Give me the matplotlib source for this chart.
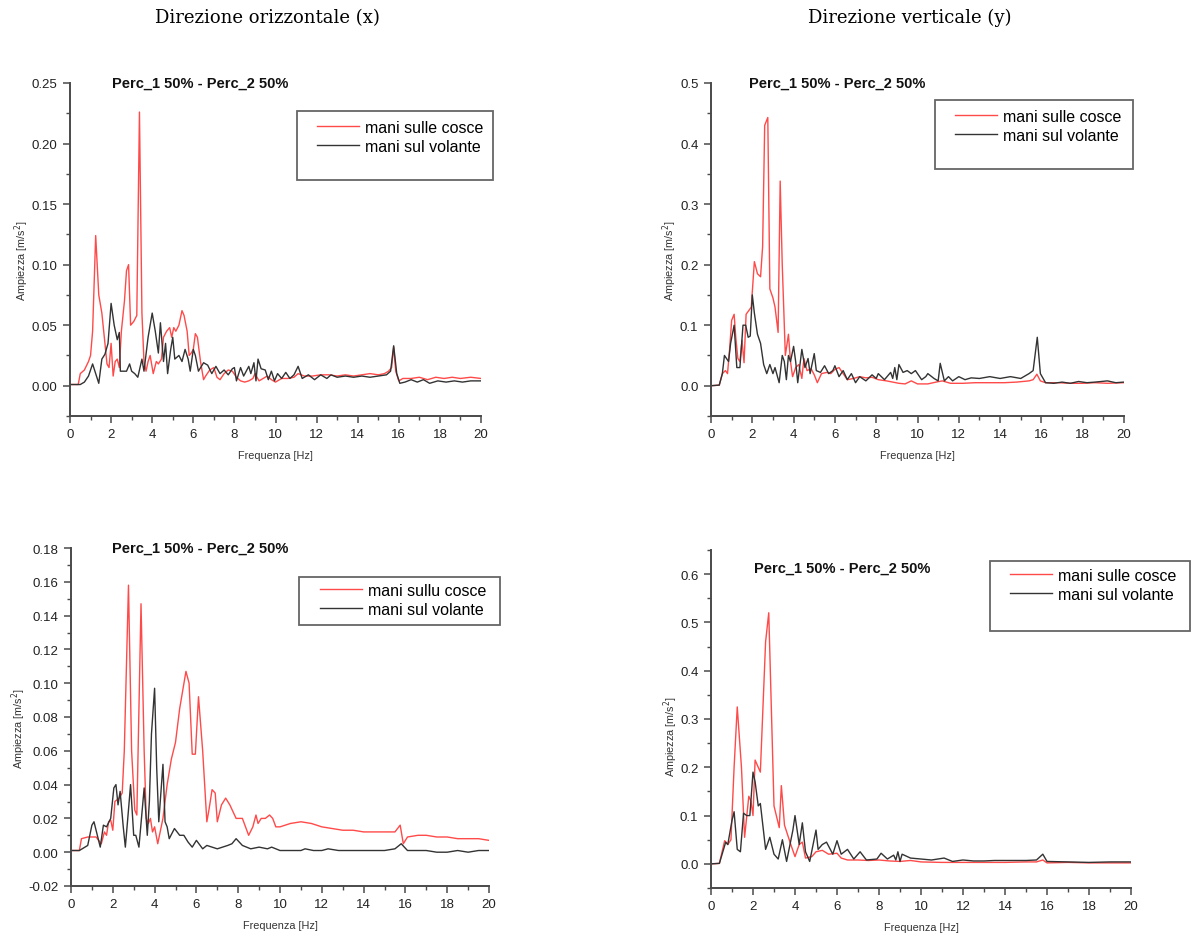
#!/usr/bin/env python
"""Spettri di ampiezza: mani sulle cosce vs mani sul volante."""
import matplotlib
matplotlib.use("Agg")
import matplotlib.pyplot as plt
import numpy as np
from matplotlib.patches import Rectangle
from matplotlib.ticker import FormatStrFormatter, MultipleLocator

W, H = 1196, 937

# (frequenza [Hz], ampiezza [m/s2])
x_top_cosce = [
    (0, 0.001), (0.4, 0.001), (0.5, 0.01), (0.7, 0.013), (0.9, 0.02), (1.0, 0.025), (1.1, 0.045),
    (1.25, 0.124), (1.4, 0.075), (1.55, 0.06), (1.7, 0.035), (1.8, 0.018), (1.9, 0.015), (2.0, 0.035),
    (2.1, 0.008), (2.2, 0.02), (2.3, 0.022), (2.4, 0.015), (2.5, 0.045), (2.65, 0.07), (2.75, 0.095),
    (2.85, 0.1), (2.95, 0.05), (3.1, 0.053), (3.25, 0.058), (3.38, 0.226), (3.5, 0.06), (3.6, 0.02),
    (3.7, 0.012), (3.8, 0.02), (3.9, 0.025), (4.05, 0.01), (4.2, 0.02), (4.3, 0.018), (4.45, 0.022),
    (4.55, 0.04), (4.7, 0.045), (4.85, 0.048), (4.95, 0.04), (5.05, 0.048), (5.15, 0.045), (5.3, 0.05),
    (5.45, 0.062), (5.55, 0.058), (5.7, 0.045), (5.8, 0.025), (5.9, 0.027), (6.0, 0.03), (6.1, 0.043),
    (6.2, 0.04), (6.35, 0.02), (6.5, 0.005), (6.6, 0.008), (6.8, 0.013), (7.0, 0.015), (7.15, 0.007),
    (7.3, 0.005), (7.5, 0.01), (7.7, 0.013), (7.9, 0.012), (8.1, 0.007), (8.3, 0.004), (8.5, 0.003),
    (8.7, 0.004), (8.9, 0.006), (9.0, 0.01), (9.2, 0.004), (9.4, 0.006), (9.6, 0.008), (9.8, 0.005),
    (10.0, 0.003), (10.3, 0.006), (10.6, 0.006), (10.9, 0.007), (11.1, 0.01), (11.4, 0.008),
    (11.8, 0.008), (12.2, 0.009), (12.6, 0.009), (13.0, 0.008), (13.4, 0.009), (13.8, 0.008),
    (14.2, 0.009), (14.6, 0.01), (15.0, 0.009), (15.3, 0.01), (15.5, 0.012), (15.65, 0.015),
    (15.75, 0.032), (15.85, 0.012), (16.0, 0.004), (16.2, 0.006), (16.6, 0.006), (17.0, 0.007),
    (17.4, 0.005), (17.8, 0.007), (18.2, 0.006), (18.6, 0.007), (19.0, 0.006), (19.5, 0.007), (20.0, 0.006),
]
x_top_volante = [
    (0, 0.001), (0.5, 0.001), (0.7, 0.003), (0.9, 0.008), (1.1, 0.018), (1.25, 0.01), (1.4, 0.002),
    (1.55, 0.022), (1.7, 0.026), (1.85, 0.035), (2.0, 0.068), (2.15, 0.05), (2.3, 0.038), (2.4, 0.044),
    (2.45, 0.012), (2.6, 0.012), (2.75, 0.012), (2.9, 0.018), (3.0, 0.012), (3.15, 0.01), (3.3, 0.007),
    (3.5, 0.022), (3.6, 0.012), (3.8, 0.04), (4.0, 0.06), (4.15, 0.045), (4.3, 0.027), (4.4, 0.052),
    (4.55, 0.02), (4.65, 0.035), (4.75, 0.01), (4.9, 0.03), (5.0, 0.04), (5.1, 0.022), (5.3, 0.025),
    (5.45, 0.02), (5.6, 0.03), (5.75, 0.022), (5.85, 0.012), (6.0, 0.03), (6.1, 0.025), (6.25, 0.012),
    (6.5, 0.019), (6.7, 0.017), (6.9, 0.01), (7.1, 0.016), (7.3, 0.01), (7.5, 0.013), (7.7, 0.009),
    (7.9, 0.014), (8.0, 0.015), (8.1, 0.004), (8.3, 0.015), (8.45, 0.008), (8.7, 0.016), (8.8, 0.01),
    (8.95, 0.019), (9.05, 0.004), (9.15, 0.022), (9.3, 0.014), (9.5, 0.013), (9.65, 0.005), (9.8, 0.012),
    (9.95, 0.004), (10.1, 0.01), (10.3, 0.006), (10.5, 0.011), (10.7, 0.006), (10.9, 0.009),
    (11.1, 0.016), (11.3, 0.006), (11.6, 0.009), (11.9, 0.005), (12.2, 0.009), (12.5, 0.006),
    (12.7, 0.009), (13.0, 0.007), (13.4, 0.008), (13.8, 0.007), (14.2, 0.008), (14.6, 0.007),
    (15.0, 0.008), (15.4, 0.009), (15.6, 0.012), (15.75, 0.033), (15.9, 0.01), (16.05, 0.002),
    (16.3, 0.003), (16.6, 0.005), (16.9, 0.003), (17.2, 0.005), (17.5, 0.002), (17.9, 0.004),
    (18.3, 0.003), (18.7, 0.004), (19.1, 0.003), (19.5, 0.004), (20.0, 0.004),
]
y_top_cosce = [
    (0, 0.0), (0.4, 0.001), (0.55, 0.02), (0.7, 0.025), (0.8, 0.02), (0.9, 0.06), (1.0, 0.108),
    (1.12, 0.118), (1.2, 0.08), (1.3, 0.045), (1.4, 0.04), (1.5, 0.075), (1.6, 0.038), (1.7, 0.118),
    (1.85, 0.125), (1.95, 0.13), (2.1, 0.205), (2.25, 0.185), (2.4, 0.18), (2.5, 0.23), (2.6, 0.43),
    (2.75, 0.443), (2.85, 0.16), (3.0, 0.145), (3.1, 0.13), (3.25, 0.088), (3.35, 0.338), (3.45, 0.2),
    (3.6, 0.05), (3.75, 0.085), (3.85, 0.04), (3.95, 0.015), (4.1, 0.03), (4.25, 0.035), (4.4, 0.012),
    (4.5, 0.045), (4.65, 0.025), (4.85, 0.028), (5.0, 0.018), (5.15, 0.005), (5.35, 0.02), (5.6, 0.022),
    (5.8, 0.02), (6.0, 0.027), (6.2, 0.03), (6.4, 0.02), (6.6, 0.01), (6.9, 0.012), (7.2, 0.015),
    (7.5, 0.013), (7.8, 0.014), (8.1, 0.01), (8.5, 0.008), (8.8, 0.006), (9.1, 0.004), (9.4, 0.003),
    (9.7, 0.008), (10.0, 0.003), (10.5, 0.003), (10.9, 0.006), (11.2, 0.008), (11.6, 0.004),
    (12.2, 0.004), (12.8, 0.005), (13.5, 0.005), (14.2, 0.005), (14.8, 0.006), (15.4, 0.008),
    (15.6, 0.01), (15.78, 0.019), (15.95, 0.008), (16.2, 0.005), (16.8, 0.005), (17.4, 0.004),
    (18.0, 0.004), (18.6, 0.005), (19.2, 0.004), (20.0, 0.005),
]
y_top_volante = [
    (0, 0.0), (0.4, 0.001), (0.55, 0.02), (0.65, 0.05), (0.75, 0.045), (0.85, 0.04), (0.95, 0.07),
    (1.12, 0.1), (1.25, 0.03), (1.4, 0.03), (1.55, 0.1), (1.68, 0.1), (1.8, 0.08), (1.9, 0.082),
    (2.0, 0.15), (2.1, 0.12), (2.25, 0.085), (2.4, 0.07), (2.55, 0.035), (2.7, 0.02), (2.85, 0.035),
    (3.0, 0.02), (3.1, 0.03), (3.3, 0.005), (3.45, 0.05), (3.55, 0.04), (3.65, 0.01), (3.75, 0.05),
    (3.85, 0.04), (4.0, 0.065), (4.1, 0.04), (4.2, 0.005), (4.4, 0.06), (4.55, 0.03), (4.7, 0.045),
    (4.8, 0.02), (5.0, 0.053), (5.1, 0.025), (5.3, 0.022), (5.5, 0.033), (5.7, 0.02), (5.9, 0.025),
    (6.0, 0.033), (6.2, 0.015), (6.4, 0.025), (6.6, 0.01), (6.8, 0.02), (7.0, 0.005), (7.2, 0.015),
    (7.5, 0.008), (7.8, 0.018), (8.0, 0.012), (8.1, 0.02), (8.4, 0.01), (8.7, 0.022), (8.8, 0.012),
    (8.9, 0.03), (9.0, 0.01), (9.1, 0.035), (9.3, 0.022), (9.5, 0.025), (9.7, 0.02), (9.9, 0.025),
    (10.2, 0.01), (10.4, 0.015), (10.5, 0.02), (10.8, 0.012), (11.0, 0.008), (11.1, 0.037),
    (11.3, 0.008), (11.5, 0.015), (11.7, 0.008), (12.0, 0.015), (12.3, 0.01), (12.6, 0.013),
    (13.0, 0.012), (13.5, 0.015), (14.0, 0.012), (14.5, 0.015), (15.0, 0.012), (15.4, 0.02),
    (15.6, 0.025), (15.8, 0.08), (15.95, 0.02), (16.2, 0.005), (16.6, 0.004), (17.0, 0.006),
    (17.4, 0.004), (17.8, 0.007), (18.2, 0.005), (18.6, 0.006), (19.2, 0.008), (19.6, 0.005), (20.0, 0.006),
]
x_bot_cosce = [
    (0, 0.001), (0.4, 0.001), (0.5, 0.008), (0.8, 0.009), (1.2, 0.009), (1.45, 0.005), (1.6, 0.012),
    (1.7, 0.01), (1.8, 0.018), (1.9, 0.019), (2.0, 0.013), (2.1, 0.03), (2.3, 0.032), (2.45, 0.035),
    (2.55, 0.06), (2.75, 0.158), (2.9, 0.06), (3.05, 0.025), (3.15, 0.022), (3.35, 0.147), (3.5, 0.06),
    (3.6, 0.02), (3.7, 0.017), (3.8, 0.02), (3.9, 0.012), (4.0, 0.015), (4.15, 0.005), (4.4, 0.02),
    (4.6, 0.04), (4.8, 0.055), (5.0, 0.065), (5.2, 0.085), (5.5, 0.107), (5.65, 0.1), (5.8, 0.058),
    (5.95, 0.058), (6.1, 0.092), (6.3, 0.06), (6.5, 0.018), (6.6, 0.025), (6.75, 0.037), (6.9, 0.035),
    (7.0, 0.018), (7.2, 0.028), (7.4, 0.032), (7.6, 0.028), (7.9, 0.02), (8.2, 0.02), (8.5, 0.01),
    (8.7, 0.015), (8.85, 0.022), (8.95, 0.017), (9.1, 0.02), (9.3, 0.02), (9.5, 0.022), (9.65, 0.02),
    (9.8, 0.015), (10.0, 0.015), (10.5, 0.017), (11.0, 0.018), (11.5, 0.017), (12.0, 0.015),
    (12.5, 0.014), (13.0, 0.013), (13.5, 0.013), (14.0, 0.012), (14.5, 0.012), (15.0, 0.012),
    (15.5, 0.012), (15.75, 0.016), (15.9, 0.005), (16.1, 0.009), (16.6, 0.01), (17.0, 0.01),
    (17.5, 0.009), (18.0, 0.009), (18.5, 0.008), (19.0, 0.008), (19.5, 0.008), (20.0, 0.007),
]
x_bot_volante = [
    (0, 0.001), (0.4, 0.001), (0.8, 0.004), (1.0, 0.016), (1.1, 0.018), (1.3, 0.008), (1.4, 0.003),
    (1.55, 0.016), (1.7, 0.015), (1.9, 0.02), (2.05, 0.038), (2.15, 0.04), (2.25, 0.028), (2.35, 0.036),
    (2.5, 0.015), (2.6, 0.003), (2.75, 0.025), (2.85, 0.04), (3.0, 0.01), (3.1, 0.01), (3.25, 0.003),
    (3.5, 0.038), (3.65, 0.01), (3.75, 0.03), (3.85, 0.07), (4.0, 0.097), (4.1, 0.05), (4.2, 0.018),
    (4.4, 0.052), (4.5, 0.018), (4.6, 0.015), (4.7, 0.008), (4.95, 0.014), (5.2, 0.01), (5.4, 0.01),
    (5.6, 0.006), (5.8, 0.003), (6.0, 0.007), (6.3, 0.002), (6.5, 0.004), (7.0, 0.002), (7.5, 0.004),
    (7.7, 0.005), (7.9, 0.008), (8.2, 0.004), (8.6, 0.002), (9.0, 0.003), (9.4, 0.002), (9.6, 0.003),
    (10.0, 0.001), (10.5, 0.001), (11.0, 0.001), (11.2, 0.002), (11.6, 0.001), (12.0, 0.001),
    (12.3, 0.002), (12.8, 0.001), (13.5, 0.001), (14.0, 0.001), (14.5, 0.001), (15.0, 0.001),
    (15.5, 0.002), (15.8, 0.005), (16.1, 0.001), (16.6, 0.001), (17.0, 0.001), (17.5, 0.0),
    (18.0, 0.0), (18.5, 0.001), (19.0, 0.0), (19.5, 0.001), (20.0, 0.001),
]
y_bot_cosce = [
    (0, 0.0), (0.4, 0.001), (0.65, 0.048), (0.8, 0.04), (0.95, 0.05), (1.1, 0.2), (1.25, 0.325),
    (1.45, 0.2), (1.6, 0.055), (1.8, 0.14), (1.9, 0.13), (2.0, 0.1), (2.1, 0.215), (2.35, 0.19),
    (2.6, 0.46), (2.75, 0.52), (3.0, 0.12), (3.25, 0.075), (3.35, 0.162), (3.5, 0.08), (3.8, 0.04),
    (4.0, 0.015), (4.2, 0.04), (4.35, 0.045), (4.5, 0.012), (4.8, 0.015), (5.0, 0.025), (5.3, 0.028),
    (5.6, 0.02), (6.0, 0.022), (6.2, 0.012), (6.5, 0.008), (7.0, 0.008), (7.5, 0.007), (8.0, 0.008),
    (8.5, 0.006), (9.0, 0.005), (9.5, 0.007), (10.0, 0.004), (11.0, 0.003), (12.0, 0.003), (13.0, 0.003),
    (14.0, 0.003), (15.0, 0.004), (15.5, 0.004), (15.8, 0.008), (16.0, 0.002), (17.0, 0.003),
    (18.0, 0.002), (19.0, 0.002), (20.0, 0.002),
]
y_bot_volante = [
    (0, 0.0), (0.4, 0.001), (0.7, 0.045), (0.8, 0.04), (1.0, 0.09), (1.1, 0.108), (1.25, 0.03),
    (1.4, 0.025), (1.55, 0.105), (1.7, 0.1), (1.85, 0.1), (2.0, 0.19), (2.1, 0.17), (2.25, 0.12),
    (2.35, 0.125), (2.6, 0.03), (2.8, 0.055), (3.0, 0.02), (3.2, 0.01), (3.4, 0.05), (3.6, 0.005),
    (3.9, 0.07), (4.0, 0.1), (4.2, 0.04), (4.35, 0.085), (4.5, 0.025), (4.7, 0.005), (5.0, 0.07),
    (5.1, 0.03), (5.3, 0.04), (5.5, 0.045), (5.8, 0.02), (6.0, 0.048), (6.2, 0.02), (6.5, 0.03),
    (6.8, 0.01), (7.1, 0.025), (7.4, 0.008), (7.9, 0.01), (8.1, 0.022), (8.4, 0.01), (8.7, 0.018),
    (8.8, 0.008), (8.9, 0.025), (9.0, 0.005), (9.1, 0.02), (9.5, 0.012), (10.0, 0.01), (10.5, 0.008),
    (11.1, 0.012), (11.5, 0.005), (12.0, 0.008), (12.5, 0.006), (13.0, 0.006), (13.5, 0.007),
    (14.0, 0.007), (14.5, 0.007), (15.0, 0.007), (15.5, 0.008), (15.8, 0.02), (16.0, 0.005),
    (17.0, 0.004), (18.0, 0.003), (19.0, 0.004), (20.0, 0.004),
]

column_titles = ["Direzione orizzontale (x)", "Direzione verticale (y)"]
panel_title = "Perc_1 50% - Perc_2 50%"
labels_top = ["mani sulle cosce", "mani sul volante"]
labels_bot_x = ["mani sullu cosce", "mani sul volante"]

RED = "#ff4a4a"
DARK = "#333333"
AXIS = "#4a4a4a"

plt.rcParams["font.family"] = ["Liberation Sans", "DejaVu Sans"]


def px_box(left, top, right, bottom):
    """Pixel box -> figure fraction [l, b, w, h]."""
    return [left / W, 1 - bottom / H, (right - left) / W, (bottom - top) / H]


def draw_panel(fig, box, cosce, volante, labels, ylim, major, minor, fmt,
               title_xy, legend_box, legend_anchor, ylabel_xy):
    ax = fig.add_axes(px_box(*box))
    f, a = np.array(cosce).T
    ax.plot(f, a, color=RED, lw=1.0, label=labels[0])
    f, a = np.array(volante).T
    ax.plot(f, a, color=DARK, lw=1.0, label=labels[1])

    ax.set_xlim(0, 20)
    ax.set_ylim(*ylim)
    ax.xaxis.set_major_locator(MultipleLocator(2))
    ax.xaxis.set_minor_locator(MultipleLocator(1))
    ax.yaxis.set_major_locator(MultipleLocator(major))
    ax.yaxis.set_minor_locator(MultipleLocator(minor))
    ax.yaxis.set_major_formatter(FormatStrFormatter(fmt))
    for side in ("top", "right"):
        ax.spines[side].set_visible(False)
    for side in ("left", "bottom"):
        ax.spines[side].set_color(AXIS)
        ax.spines[side].set_linewidth(1.4)
    ax.tick_params(which="major", length=5, width=1.1, color=AXIS, labelsize=9.5,
                   labelcolor="#222222", pad=4)
    ax.tick_params(which="minor", length=3, width=1.0, color=AXIS)

    ax.set_xlabel("Frequenza [Hz]", fontsize=7.8, color="#333333")
    ax.set_ylabel("Ampiezza [m/s$^2$]", fontsize=7.8, color="#333333")
    height = box[3] - box[1]
    width = box[2] - box[0]
    ax.xaxis.set_label_coords(0.5, -34 / height)
    ax.yaxis.set_label_coords((ylabel_xy[0] - box[0]) / width, ylabel_xy[1])

    ax.text(title_xy[0], title_xy[1], panel_title, transform=ax.transAxes,
            fontsize=10.5, fontweight="bold", ha="left", va="center", color="#111111")

    ax.legend(loc="upper left", bbox_to_anchor=(legend_anchor[0] / W, 1 - legend_anchor[1] / H),
              bbox_transform=fig.transFigure, frameon=False, borderpad=0, borderaxespad=0,
              handlelength=2.6, handletextpad=0.4, labelspacing=0.22, fontsize=11.5)
    l, b, w, h = px_box(*legend_box)
    fig.add_artist(Rectangle((l, b), w, h, transform=fig.transFigure, fill=False,
                             edgecolor="#666666", lw=1.3))
    return ax


fig = plt.figure(figsize=(W / 100, H / 100), dpi=100)

fig.text(267 / W, 1 - 18 / H, column_titles[0], ha="center", va="center",
         family="DejaVu Serif", fontsize=13)
fig.text(910 / W, 1 - 18 / H, column_titles[1], ha="center", va="center",
         family="DejaVu Serif", fontsize=13)

draw_panel(fig, (70, 84, 481, 417), x_top_cosce, x_top_volante, labels_top,
           (-0.025, 0.25), 0.05, 0.025, "%.2f",
           (0.102, 1.0), (297, 112, 493, 181), (317, 121), (31, 0.47))
draw_panel(fig, (711, 84, 1124, 417), y_top_cosce, y_top_volante, labels_top,
           (-0.05, 0.5), 0.1, 0.05, "%.1f",
           (0.092, 1.0), (935, 101, 1133, 170), (955, 110), (679, 0.47))
draw_panel(fig, (71, 549, 489, 887), x_bot_cosce, x_bot_volante, labels_bot_x,
           (-0.02, 0.18), 0.02, 0.01, "%.2f",
           (0.098, 1.0), (299, 578, 500, 626), (320, 584), (28, 0.47))
draw_panel(fig, (711, 551, 1131, 889), y_bot_cosce, y_bot_volante, labels_top,
           (-0.05, 0.65), 0.1, 0.05, "%.1f",
           (0.102, 0.947), (990, 562, 1190, 632), (1010, 569), (680, 0.45))

fig.savefig("out.png", dpi=100)
